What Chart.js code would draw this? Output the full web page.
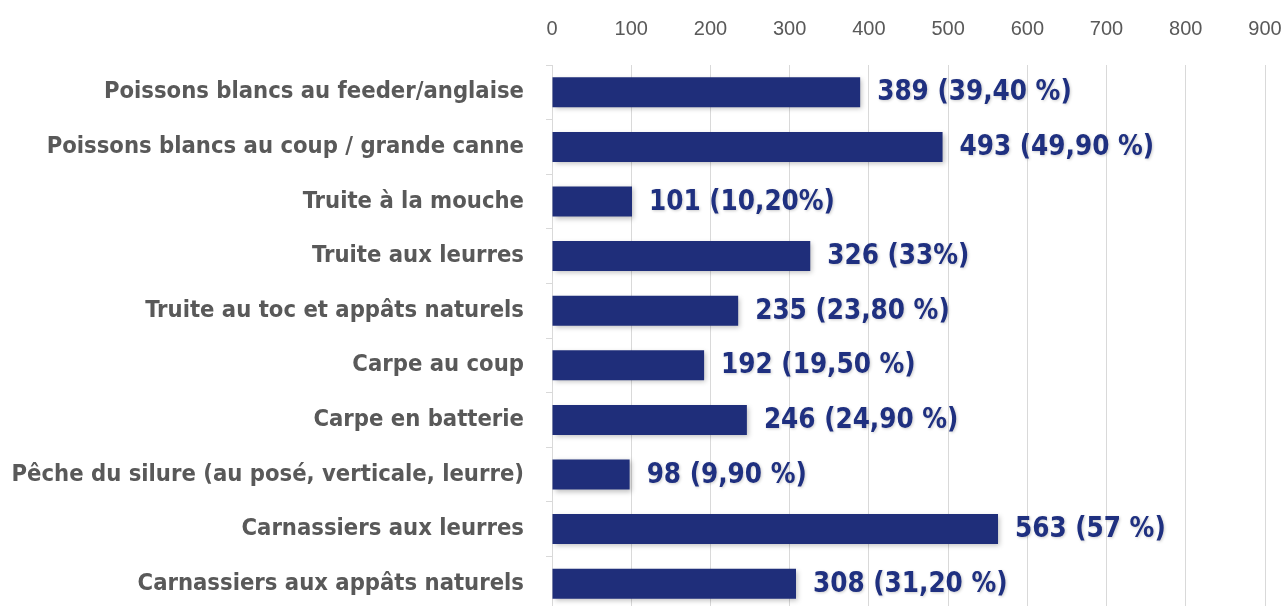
<!DOCTYPE html>
<html>
<head>
<meta charset="utf-8">
<script src="https://cdn.jsdelivr.net/npm/chart.js@4/dist/chart.umd.min.js"></script>
<style>
  html, body { margin: 0; padding: 0; background: #fff; overflow: hidden; }
  #wrap { position: relative; width: 1288px; height: 614px; }
</style>
</head>
<body>
<div id="wrap"><canvas id="chart"></canvas></div>
<script>
// categories (du haut vers le bas)
const categories = [
    "Poissons blancs au feeder/anglaise",
    "Poissons blancs au coup / grande canne",
    "Truite à la mouche",
    "Truite aux leurres",
    "Truite au toc et appâts naturels",
    "Carpe au coup",
    "Carpe en batterie",
    "Pêche du silure (au posé, verticale, leurre)",
    "Carnassiers aux leurres",
    "Carnassiers aux appâts naturels"
];
const values = [389, 493, 101, 326, 235, 192, 246, 98, 563, 308];
const percentLabels = [
    "(39,40 %)", "(49,90 %)", "(10,20%)", "(33%)", "(23,80 %)",
    "(19,50 %)", "(24,90 %)", "(9,90 %)", "(57 %)", "(31,20 %)"
];
const xTicks = [0, 100, 200, 300, 400, 500, 600, 700, 800, 900];

const FONT = "'Liberation Sans Narrow', 'DejaVu Sans Condensed', 'Noto Sans', sans-serif";
const navy = "#1f2e7a";

// ombre des barres
const barShadow = {
    id: 'barShadow',
    beforeDatasetsDraw(chart) {
        const ctx = chart.ctx;
        ctx.save();
        ctx.shadowColor = 'rgba(0,0,0,0.25)';
        ctx.shadowBlur = 5;
        ctx.shadowOffsetX = 2;
        ctx.shadowOffsetY = 2;
    },
    afterDatasetsDraw(chart) {
        chart.ctx.restore();
    }
};

// etiquettes de valeurs
const valueLabels = {
    id: 'valueLabels',
    afterDatasetsDraw(chart) {
        const ctx = chart.ctx;
        const meta = chart.getDatasetMeta(0);
        ctx.save();
        ctx.font = "bold 27.5px " + FONT;
        ctx.fillStyle = "#1f3080";
        ctx.textBaseline = 'middle';
        ctx.textAlign = 'left';
        ctx.shadowColor = 'rgba(0,0,0,0.2)';
        ctx.shadowBlur = 3;
        ctx.shadowOffsetX = 1;
        ctx.shadowOffsetY = 1;
        meta.data.forEach((bar, i) => {
            ctx.fillText(values[i] + " " + percentLabels[i], bar.x + 17, bar.y + 1);
        });
        ctx.restore();
    }
};

new Chart(document.getElementById('chart'), {
    type: 'bar',
    data: {
        labels: categories,
        datasets: [{
            data: values,
            backgroundColor: navy,
            categoryPercentage: 0.55,
            barPercentage: 1.0
        }]
    },
    options: {
        indexAxis: 'y',
        responsive: true,
        maintainAspectRatio: false,
        animation: false,
        layout: { padding: { top: 19, right: 23, bottom: 3, left: 0 } },
        plugins: {
            legend: { display: false },
            tooltip: { enabled: false }
        },
        scales: {
            x: {
                position: 'top',
                min: 0,
                max: 900,
                afterBuildTicks: (scale) => { scale.ticks = xTicks.map(v => ({ value: v })); },
                afterFit: (scale) => {
                    scale.height = 46;
                    scale.paddingLeft = 0;
                    scale.paddingRight = 0;
                },
                grid: { color: '#d9d9d9', lineWidth: 1, drawTicks: false },
                border: { display: false },
                ticks: {
                    padding: 24,
                    maxRotation: 0,
                    color: '#595959',
                    font: { family: "'Liberation Sans', 'Noto Sans', sans-serif", size: 20 }
                }
            },
            y: {
                afterFit: (scale) => {
                    scale.width = 552;
                    scale.paddingTop = 0;
                    scale.paddingBottom = 0;
                },
                grid: { drawOnChartArea: false, drawTicks: true, tickLength: 6, color: '#d9d9d9' },
                border: { display: true, color: '#d9d9d9' },
                ticks: {
                    padding: 22,
                    color: '#595959',
                    font: { family: FONT, size: 23.6, weight: 'bold' }
                }
            }
        }
    },
    plugins: [barShadow, valueLabels]
});
</script>
</body>
</html>
